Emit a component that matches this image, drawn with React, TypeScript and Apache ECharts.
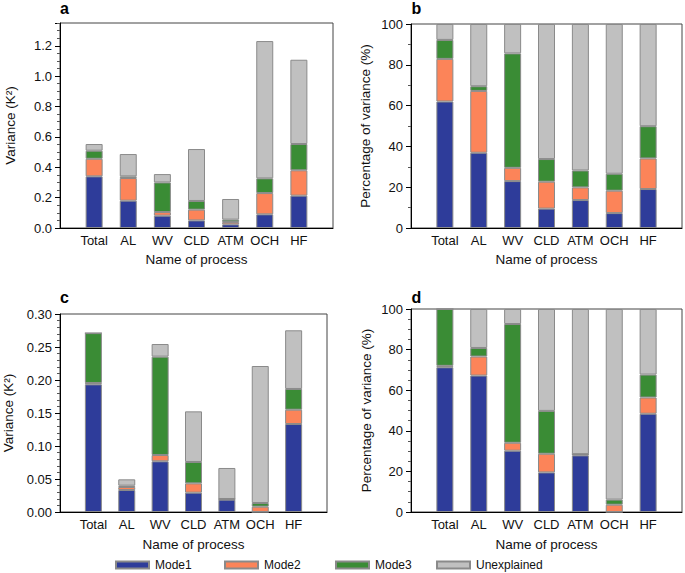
import React, { useEffect, useRef } from "react";
import * as echarts from "echarts";

const categories = ["Total", "AL", "WV", "CLD", "ATM", "OCH", "HF"];
const seriesNames = ["Mode1", "Mode2", "Mode3", "Unexplained"];
const colors = ["#2E3C9A", "#FC8459", "#3A8C35", "#C0C0C0"];

// Panel a: variance (K^2), segment heights
const aMode1 = [0.34, 0.18, 0.081, 0.05, 0.024, 0.09, 0.213];
const aMode2 = [0.116, 0.149, 0.024, 0.071, 0.015, 0.14, 0.167];
const aMode3 = [0.053, 0.011, 0.195, 0.057, 0.016, 0.097, 0.173];
const aUnexp = [0.044, 0.147, 0.055, 0.342, 0.136, 0.904, 0.555];

// Panel b: percentage of variance (%)
const bMode1 = [62.0, 36.9, 23.0, 9.5, 13.7, 7.3, 19.1];
const bMode2 = [20.9, 30.3, 6.5, 13.2, 6.2, 11.0, 15.0];
const bMode3 = [9.3, 2.3, 56.1, 11.1, 8.3, 8.3, 15.8];
const bUnexp = [7.8, 30.5, 14.4, 66.2, 71.8, 73.4, 50.1];

// Panel c: variance (K^2)
const cMode1 = [0.1934, 0.0333, 0.0768, 0.0293, 0.0187, 0, 0.1333];
const cMode2 = [0.0021, 0.0046, 0.0096, 0.0141, 0.001, 0.0081, 0.0217];
const cMode3 = [0.0755, 0.002, 0.149, 0.0324, 0, 0.0055, 0.0314];
const cUnexp = [0, 0.0096, 0.0191, 0.0767, 0.047, 0.2076, 0.0889];

// Panel d: percentage of variance (%)
const dMode1 = [71.3, 67.2, 30.2, 19.5, 27.9, 0, 48.4];
const dMode2 = [0.7, 9.4, 3.9, 9.2, 0.6, 3.6, 8.0];
const dMode3 = [28.0, 4.2, 58.5, 21.1, 0, 2.5, 11.3];
const dUnexp = [0, 19.2, 7.4, 50.2, 71.5, 93.9, 32.3];

const panelData = [
  [aMode1, aMode2, aMode3, aUnexp],
  [bMode1, bMode2, bMode3, bUnexp],
  [cMode1, cMode2, cMode3, cUnexp],
  [dMode1, dMode2, dMode3, dUnexp],
];

const yTitles = ["Variance (K²)", "Percentage of variance (%)", "Variance (K²)", "Percentage of variance (%)"];
const panelLetters = ["a", "b", "c", "d"];
const xTitle = "Name of process";

const FONT = "Liberation Sans, Arial, Helvetica, sans-serif";

const grids = [
  { left: 60, top: 23, width: 273, height: 205 },
  { left: 411, top: 24, width: 273, height: 204 },
  { left: 60, top: 314, width: 267, height: 198 },
  { left: 411, top: 309, width: 271, height: 203 },
];

const yCfg = [
  { max: 1.35, interval: 0.2, minor: 4, dec: 1, gap: 43 },
  { max: 100, interval: 20, minor: 2, dec: 0, gap: 39 },
  { max: 0.3, interval: 0.05, minor: 5, dec: 2, gap: 45 },
  { max: 100, interval: 20, minor: 4, dec: 0, gap: 38 },
];

const letterPos = [
  { x: 60, y: 0 },
  { x: 411.5, y: 0 },
  { x: 60, y: 289 },
  { x: 411.5, y: 289 },
];

const legendLeft = [115, 224, 335, 436];

export default function App() {
  const ref = useRef<HTMLDivElement>(null);
  useEffect(() => {
    if (!ref.current) return;
    const chart = echarts.init(ref.current, null, { renderer: "svg" });
    const axisCats = ["", ...categories, ""];
    const series: any[] = [];
    panelData.forEach((panel, pi) => {
      panel.forEach((vals, si) => {
        series.push({
          type: "bar",
          name: seriesNames[si],
          xAxisIndex: pi,
          yAxisIndex: pi,
          stack: "p" + pi,
          barWidth: 17,
          data: ["-", ...vals, "-"],
          itemStyle: {
            color: colors[si],
            borderColor: "#8a8a8a",
            borderWidth: 1,
          },
        });
      });
    });
    const option: any = {
      animation: false,
      textStyle: { fontFamily: FONT },
      grid: grids.map((g) => ({
        ...g,
        show: true,
        borderColor: "#444",
        borderWidth: 1,
        backgroundColor: "transparent",
        containLabel: false,
      })),
      xAxis: grids.map((_, i) => ({
        type: "category",
        gridIndex: i,
        data: axisCats,
        boundaryGap: false,
        axisTick: { show: false },
        axisLine: { lineStyle: { color: "#000", width: 1 } },
        axisLabel: { interval: 0, color: "#111", fontSize: 13, margin: 6, fontFamily: FONT },
        splitLine: { show: false },
        name: xTitle,
        nameLocation: "middle",
        nameGap: i < 2 ? 24 : 25,
        nameTextStyle: { color: "#111", fontSize: 13.5, fontFamily: FONT },
      })),
      yAxis: yCfg.map((c, i) => ({
        type: "value",
        gridIndex: i,
        min: 0,
        max: c.max,
        interval: c.interval,
        axisLine: { show: true, lineStyle: { color: "#000", width: 1 } },
        axisTick: { show: true, inside: false, length: 5, lineStyle: { color: "#000" } },
        minorTick: { show: true, splitNumber: c.minor, length: 3, lineStyle: { color: "#555" } },
        splitLine: { show: false },
        axisLabel: {
          color: "#111",
          fontSize: 13,
          margin: 8,
          fontFamily: FONT,
          showMaxLabel: c.max === 1.35 ? false : true,
          formatter: (v: number) => v.toFixed(c.dec),
        },
        name: yTitles[i],
        nameLocation: "middle",
        nameGap: c.gap,
        nameTextStyle: { color: "#111", fontSize: 13.5, fontFamily: FONT },
      })),
      legend: seriesNames.map((n, i) => ({
        data: [n],
        left: legendLeft[i],
        top: 559,
        padding: 0,
        itemWidth: 33,
        itemHeight: 7,
        icon: "rect",
        itemGap: 0,
        selectedMode: false,
        textStyle: { color: "#111", fontSize: 12, fontFamily: FONT, padding: [0, 0, 0, 1] },
      })),
      graphic: panelLetters.map((l, i) => ({
        type: "text",
        left: letterPos[i].x,
        top: letterPos[i].y,
        style: {
          text: l,
          font: "bold 16px " + FONT,
          fill: "#000",
        },
      })),
      series,
    };
    chart.setOption(option);
    return () => chart.dispose();
  }, []);
  return (
    <div
      ref={ref}
      style={{ position: "fixed", left: 0, top: 0, width: 685, height: 573, background: "#fff" }}
    />
  );
}
